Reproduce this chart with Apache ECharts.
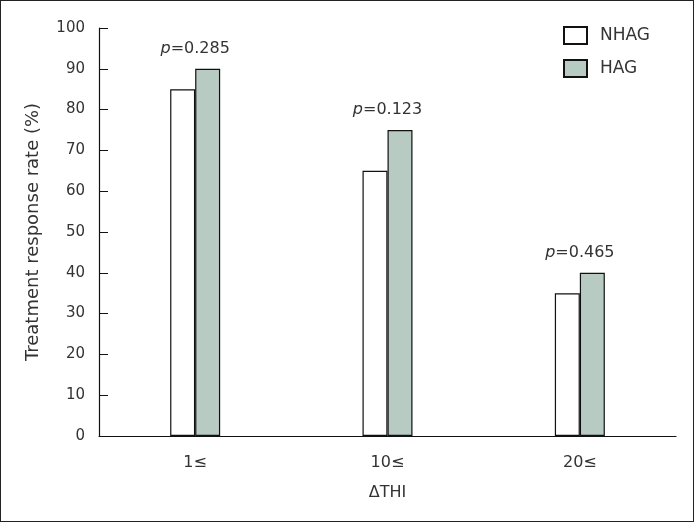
<!DOCTYPE html>
<html>
<head>
<meta charset="utf-8">
<script src="https://cdn.jsdelivr.net/npm/echarts@6/dist/echarts.min.js"></script>
<style>
html,body{margin:0;padding:0;background:#fff;}
#wrap{position:relative;width:694px;height:522px;}
#c{width:694px;height:522px;}
#frame{position:absolute;left:0;top:0;width:694px;height:522px;box-sizing:border-box;border:1px solid #222;pointer-events:none;}
</style>
</head>
<body>
<div id="wrap"><div id="c"></div><div id="frame"></div></div>
<script>
const categories = ['1\u2264', '10\u2264', '20\u2264'];
const nhag = [85, 65, 35];
const hag = [90, 75, 40];
const pValues = ['0.285', '0.123', '0.465'];
const yTicks = [0, 10, 20, 30, 40, 50, 60, 70, 80, 90, 100];

const FONT = 'DejaVu Sans';
const TXT = '#333';
const chart = echarts.init(document.getElementById('c'), null, {renderer: 'canvas'});
chart.setOption({
  animation: false,
  backgroundColor: '#fff',
  textStyle: {fontFamily: FONT, color: TXT},
  grid: {left: 99, right: 18, top: 28, bottom: 86, containLabel: false},
  legend: {
    orient: 'vertical', left: 563, top: 26, padding: 0,
    itemWidth: 23, itemHeight: 17, itemGap: 14, icon: 'rect',
    data: ['NHAG', 'HAG'],
    textStyle: {fontFamily: FONT, fontSize: 17, color: TXT, padding: [0, 0, 0, 8]}
  },
  xAxis: {
    type: 'category', data: categories,
    axisLine: {lineStyle: {color: '#111', width: 1.2}},
    axisTick: {show: false},
    axisLabel: {fontFamily: FONT, fontSize: 16, color: TXT, margin: 19},
    name: '\u0394THI', nameLocation: 'middle', nameGap: 49,
    nameTextStyle: {fontFamily: FONT, fontSize: 16, color: TXT}
  },
  yAxis: {
    type: 'value', min: 0, max: 100, interval: 10,
    axisLine: {show: true, lineStyle: {color: '#111', width: 1.2}},
    axisTick: {show: true, inside: true, length: 9, lineStyle: {color: '#111'}},
    splitLine: {show: false},
    axisLabel: {fontFamily: FONT, fontSize: 15, color: TXT, margin: 14,
      formatter: v => yTicks.includes(v) ? String(v) : ''},
    name: 'Treatment response rate (%)', nameLocation: 'middle', nameGap: 57,
    nameTextStyle: {fontFamily: FONT, fontSize: 18, color: TXT}
  },
  series: [
    {name: 'NHAG', type: 'bar', data: nhag, barWidth: 25, barGap: '0%',
      itemStyle: {color: '#ffffff', borderColor: '#111', borderWidth: 1.2}},
    {name: 'HAG', type: 'bar', data: hag, barWidth: 25,
      itemStyle: {color: '#b8cbc2', borderColor: '#111', borderWidth: 1.2}},
    {name: 'p', type: 'scatter', data: hag, symbolSize: 0, silent: true,
      itemStyle: {color: TXT, opacity: 1},
      label: {show: true, position: 'top', distance: 12,
        formatter: p => '{i|p}=' + pValues[p.dataIndex],
        fontFamily: FONT, fontSize: 16, color: TXT, opacity: 1,
        rich: {i: {fontStyle: 'italic', fontFamily: FONT, fontSize: 16, color: TXT}}}}
  ]
});
</script>
</body>
</html>
